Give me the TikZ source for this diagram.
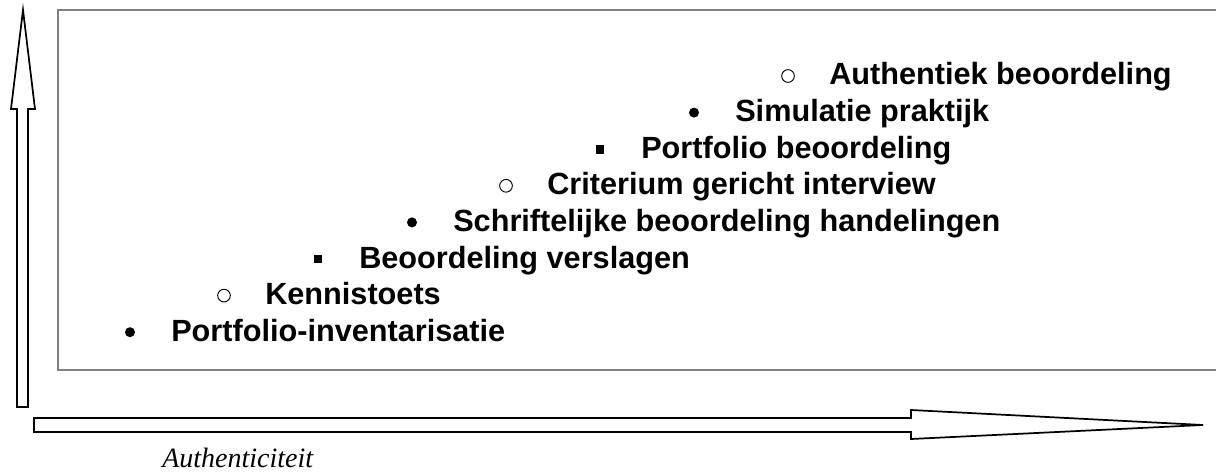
\documentclass[tikz,border=0pt]{standalone}
\usepackage{fontspec}
\setmainfont{Liberation Sans}
\newfontfamily\timesfont{Liberation Serif}
\usepackage{tikz}

\tikzset{
	item/.style={anchor=base west, inner sep=0pt, font=\bfseries\fontsize{23}{27}\selectfont},
	dot/.style={circle, fill, inner sep=0pt, minimum size=7.5pt},
	ring/.style={circle, draw, line width=0.7pt, inner sep=0pt, minimum size=9.5pt},
	sq/.style={rectangle, fill, inner sep=0pt, minimum size=6.5pt},
	bigarrow/.style={draw, line width=1.3pt, fill=white, line join=miter}
}

\begin{document}
\begin{tikzpicture}[x=0.75pt, y=-0.75pt]
		\useasboundingbox (0,0) rectangle (1216,474);
		\begin{scope}
			\clip (0,0) rectangle (1216,474);
			\draw[gray, line width=0.9pt] (58,10) rectangle (1230,370);
		\end{scope}
		% vertical arrow
		\draw[bigarrow] (17,407) -- (17,109) -- (11,109) -- (23,10) -- (35,109) -- (28,109) -- (28,407) -- cycle;
		% horizontal arrow
		\draw[bigarrow] (34,418) -- (911,418) -- (911,410) -- (1203,425) -- (911,439) -- (911,432) -- (34,432) -- cycle;
		\node[anchor=base west, inner sep=0pt, font=\timesfont\itshape\fontsize{21}{25}\selectfont] (as) at (162,467) {Authenticiteit};
		% items
		\foreach \i/\b/\t in {0/ring/Authentiek beoordeling, 1/dot/Simulatie praktijk, 2/sq/Portfolio beoordeling, 3/ring/Criterium gericht interview, 4/dot/Schriftelijke beoordeling handelingen, 5/sq/Beoordeling verslagen, 6/ring/Kennistoets, 7/dot/Portfolio-inventarisatie}
		{
			\node[\b] (b\i) at ({788-94*\i},{76+36.6*\i}) {};
			\node[item] (t\i) at ({829-94*\i},{85+36.6*\i}) {\t};
		}
	\end{tikzpicture}
\end{document}
